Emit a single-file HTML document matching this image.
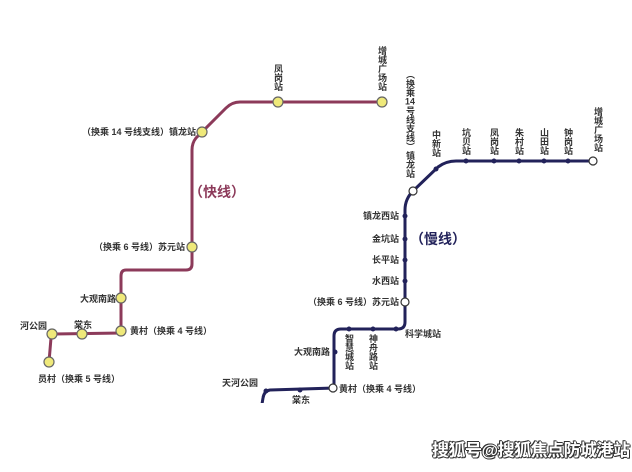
<!DOCTYPE html>
<html><head><meta charset="utf-8"><style>
body{margin:0;width:632px;height:472px;background:#fff;overflow:hidden;position:relative;font-family:"Liberation Sans","Noto Sans CJK SC",sans-serif}
svg{position:absolute;left:0;top:0}
.v{position:absolute;writing-mode:vertical-rl;text-orientation:upright;font-size:9px;line-height:10px;color:#333;font-weight:bold;letter-spacing:0px}
.c{text-combine-upright:all}
.wm{position:absolute;left:432px;top:436px;font-size:17px;color:#fff;font-weight:bold;text-shadow:-1px 0 #333,1px 0 #333,0 -1px #333,0 1px #333,1px 1px #333,-1px -1px #333;letter-spacing:-0.5px}
</style></head><body>
<svg width="632" height="472" font-family="Liberation Sans, Noto Sans CJK SC, sans-serif" font-size="9" font-weight="bold" fill="#333">
<path d="M382,102 L240,102 Q232,102 226,108 L196,138 Q192,143 192,150 L192,264 Q192,270 186,270 L126,270 Q121,270 121,276 L121,333 L54,334 Q51,334 51,338 L49,362" fill="none" stroke="#8c3a5a" stroke-width="3"/>
<g fill="#efe97a" stroke="#666" stroke-width="1.2">
<circle cx="382" cy="102" r="5"/><circle cx="278" cy="102" r="5"/><circle cx="202" cy="132" r="5"/><circle cx="192" cy="247" r="5"/><circle cx="121" cy="298" r="5"/><circle cx="121" cy="331" r="5"/><circle cx="82" cy="334" r="5"/><circle cx="52" cy="334" r="5"/><circle cx="49" cy="362" r="5"/>
</g>
<path d="M593,161 L456,161 Q446,161 438,167 L413,191 Q405,199 405,210 L405,322 Q405,329 398,329 L341,329 Q334,329 334,336 L334,388 L270,390 Q264,391 263,398 L262,404" fill="none" stroke="#22225a" stroke-width="3"/>
<g fill="#22225a">
<circle cx="568" cy="161" r="2.5"/><circle cx="544" cy="161" r="2.5"/><circle cx="519" cy="161" r="2.5"/><circle cx="494" cy="161" r="2.5"/><circle cx="466" cy="161" r="2.5"/><circle cx="436" cy="169" r="2.5"/>
<circle cx="405" cy="216" r="2.5"/><circle cx="405" cy="239" r="2.5"/><circle cx="405" cy="260" r="2.5"/><circle cx="405" cy="281" r="2.5"/>
<circle cx="396" cy="329" r="2.5"/><circle cx="373" cy="329" r="2.5"/><circle cx="349" cy="329" r="2.5"/><circle cx="335" cy="352" r="2.5"/><circle cx="300" cy="390" r="2.5"/><circle cx="266" cy="391" r="2.5"/>
</g>
<g fill="#fff" stroke="#333" stroke-width="1.2">
<circle cx="593" cy="161" r="4"/><circle cx="413" cy="191" r="4"/><circle cx="405" cy="302" r="4"/><circle cx="333" cy="388" r="4"/>
</g>
<rect x="0" y="403" width="632" height="69" fill="#fff"/>
<text x="196" y="135" text-anchor="end">（换乘 14 号线支线）镇龙站</text>
<text x="185" y="250" text-anchor="end">（换乘 6 号线）苏元站</text>
<text x="116" y="302" text-anchor="end">大观南路</text>
<text x="130" y="334">黄村（换乘 4 号线）</text>
<text x="20" y="329">河公园</text>
<text x="74" y="328">棠东</text>
<text x="38" y="382">员村（换乘 5 号线）</text>
<text x="217" y="197" font-size="14" fill="#8c3a5a" text-anchor="middle">（快线）</text>
<text x="399" y="219" text-anchor="end">镇龙西站</text>
<text x="399" y="242" text-anchor="end">金坑站</text>
<text x="399" y="263" text-anchor="end">长平站</text>
<text x="399" y="284" text-anchor="end">水西站</text>
<text x="399" y="305" text-anchor="end">（换乘 6 号线）苏元站</text>
<text x="405" y="337">科学城站</text>
<text x="330" y="355" text-anchor="end">大观南路</text>
<text x="339" y="392">黄村（换乘 4 号线）</text>
<text x="222" y="386">天河公园</text>
<text x="292" y="403">棠东</text>
<text x="438" y="244" font-size="14" fill="#22225a" text-anchor="middle">（慢线）</text>
</svg>
<div class="v" style="left:273px;top:64px">凤岗站</div>
<div class="v" style="left:377px;top:46px">增城广场站</div>
<div class="v" style="left:405px;top:70px">（换乘<span class="c">14</span>号线支线）镇龙站</div>
<div class="v" style="left:431px;top:130px">中新站</div>
<div class="v" style="left:461px;top:128px">坑贝站</div>
<div class="v" style="left:489px;top:128px">凤岗站</div>
<div class="v" style="left:514px;top:128px">朱村站</div>
<div class="v" style="left:539px;top:128px">山田站</div>
<div class="v" style="left:563px;top:128px">钟岗站</div>
<div class="v" style="left:593px;top:107px">增城广场站</div>
<div class="v" style="left:344px;top:334px">智慧城站</div>
<div class="v" style="left:368px;top:334px">神舟路站</div>
<div class="wm">搜狐号@搜狐焦点防城港站</div>
</body></html>
